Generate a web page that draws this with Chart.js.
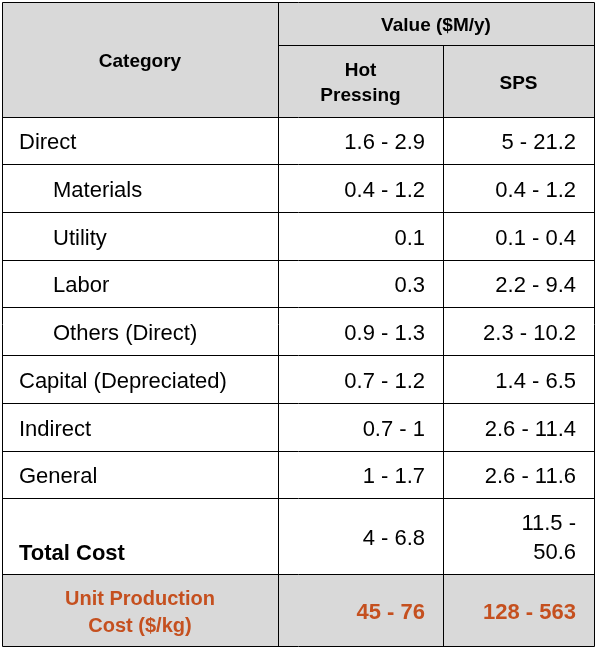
<!DOCTYPE html>
<html><head><meta charset="utf-8">
<script src="https://cdn.jsdelivr.net/npm/chart.js@4"></script>
<style>html,body{margin:0;padding:0;background:#fff}</style>
</head><body>
<canvas id="c" width="596" height="650"></canvas>
<script>
const categories = ["Direct","Materials","Utility","Labor","Others (Direct)","Capital (Depreciated)","Indirect","General","Total Cost","Unit Production\nCost ($/kg)"];
const indented = [false,true,true,true,true,false,false,false,false,false];
const hotPressing = ["1.6 - 2.9","0.4 - 1.2","0.1","0.3","0.9 - 1.3","0.7 - 1.2","0.7 - 1","1 - 1.7","4 - 6.8","45 - 76"];
const sps = ["5 - 21.2","0.4 - 1.2","0.1 - 0.4","2.2 - 9.4","2.3 - 10.2","1.4 - 6.5","2.6 - 11.4","2.6 - 11.6","11.5 -\n50.6","128 - 563"];
const headerTop = "Value ($M/y)";
const headerCat = "Category";
const headerCols = ["Hot\nPressing","SPS"];

const colX = [2,278,443,594];
const rowY = [2,45,117,164,212,260,307,355,403,451,498,574,646];

const tablePlugin = {
  id:'table',
  afterDraw(chart){
    const ctx = chart.ctx, sx = chart.scales.x, sy = chart.scales.y;
    const X = v=>sx.getPixelForValue(v), Y = v=>sy.getPixelForValue(v);
    ctx.save();
    ctx.fillStyle = '#d9d9d9';
    ctx.fillRect(X(colX[0]),Y(rowY[0]),X(colX[3])-X(colX[0]),Y(rowY[2])-Y(rowY[0]));
    ctx.fillRect(X(colX[0]),Y(rowY[11]),X(colX[3])-X(colX[0]),Y(rowY[12])-Y(rowY[11]));
    ctx.strokeStyle = '#000'; ctx.lineWidth = 1;
    const line=(x1,y1,x2,y2)=>{ctx.beginPath();ctx.moveTo(X(x1)+0.5,Y(y1)+0.5);ctx.lineTo(X(x2)+0.5,Y(y2)+0.5);ctx.stroke();};
    rowY.forEach((y,i)=>{ if(i===1) line(colX[1],y,colX[3],y); else line(colX[0],y,colX[3],y); });
    colX.forEach((x,i)=>{ if(i===2) line(x,rowY[1],x,rowY[12]); else line(x,rowY[0],x,rowY[12]); });
    ctx.textBaseline='middle';
    const dy = 2.5;
    const txt=(s,x,y,align,font,color,lh)=>{
      ctx.font=font; ctx.fillStyle=color; ctx.textAlign=align;
      const parts=s.split('\n'); const off=(parts.length-1)*lh/2;
      parts.forEach((p,k)=>ctx.fillText(p,X(x),Y(y)-off+k*lh+dy));
    };
    const F='"Liberation Sans", Arial, sans-serif';
    const bold='bold 19px '+F;
    const reg='22px '+F;
    txt(headerTop,(colX[1]+colX[3])/2,(rowY[0]+rowY[1])/2,'center',bold,'#000',25);
    txt(headerCat,(colX[0]+colX[1])/2,(rowY[0]+rowY[2])/2,'center',bold,'#000',25);
    txt(headerCols[0],(colX[1]+colX[2])/2,(rowY[1]+rowY[2])/2,'center',bold,'#000',25);
    txt(headerCols[1],(colX[2]+colX[3])/2,(rowY[1]+rowY[2])/2,'center',bold,'#000',25);
    categories.forEach((c,i)=>{
      const y0=rowY[i+2], y1=rowY[i+3], ym=(y0+y1)/2;
      const last = i===categories.length-1, total = c==='Total Cost';
      if(last){
        const col='#c5501f';
        txt(c,(colX[0]+colX[1])/2,ym,'center','bold 20px '+F,col,27);
        txt(hotPressing[i],colX[2]-18,ym,'right','bold 22px '+F,col,27);
        txt(sps[i],colX[3]-18,ym,'right','bold 22px '+F,col,27);
      } else if(total){
        txt(c,colX[0]+17,y1-23,'left','bold 22px '+F,'#000',29);
        txt(hotPressing[i],colX[2]-18,ym,'right',reg,'#000',29);
        txt(sps[i],colX[3]-18,ym,'right',reg,'#000',29);
      } else {
        txt(c,colX[0]+17+(indented[i]?34:0),ym,'left',reg,'#000',26);
        txt(hotPressing[i],colX[2]-18,ym,'right',reg,'#000',26);
        txt(sps[i],colX[3]-18,ym,'right',reg,'#000',26);
      }
    });
    ctx.restore();
  }
};

new Chart(document.getElementById('c'),{
  type:'scatter',
  data:{datasets:[{data:[]}]},
  options:{
    responsive:false, animation:false,
    layout:{padding:0},
    plugins:{legend:{display:false},tooltip:{enabled:false}},
    scales:{
      x:{type:'linear',min:0,max:596,display:false},
      y:{type:'linear',min:0,max:650,reverse:true,display:false}
    }
  },
  plugins:[tablePlugin]
});
</script>
</body></html>
